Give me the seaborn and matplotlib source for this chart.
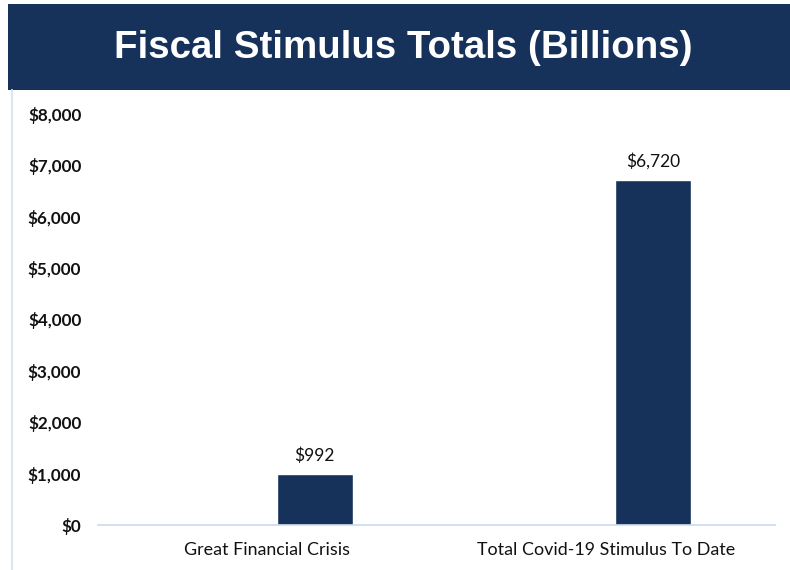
import matplotlib
matplotlib.use("Agg")
import matplotlib.pyplot as plt
import seaborn as sns
import pandas as pd
import numpy as np
from matplotlib.patches import Rectangle
from matplotlib.lines import Line2D

categories = ["Great Financial Crisis", "Total Covid-19 Stimulus To Date"]
series_names = ["Blank", "Stimulus"]
blank_values = [np.nan, np.nan]
values = [992, 6720]
y_ticks = [0, 1000, 2000, 3000, 4000, 5000, 6000, 7000, 8000]

navy = "#17325a"
axis_blue = "#c9daf0"

sns.set_theme(style="white")
plt.rcParams["font.family"] = ["Lato", "DejaVu Sans"]

df = pd.DataFrame({
    "category": categories * 2,
    "series": [series_names[0]] * 2 + [series_names[1]] * 2,
    "value": blank_values + values,
})

fig = plt.figure(figsize=(7.9, 5.7), dpi=100)
fig.patch.set_facecolor("white")

# Header band with title
fig.patches.append(Rectangle((8 / 790, 1 - 90 / 570), 1 - 8 / 790, 86 / 570,
                             transform=fig.transFigure, facecolor=navy,
                             edgecolor="none", zorder=0))
fig.text(403 / 790, 1 - 48 / 570, "Fiscal Stimulus Totals (Billions)",
         ha="center", va="center", color="white", fontsize=27.7,
         fontweight="bold", family=["Liberation Sans", "DejaVu Sans"])

# Thin frame line on the left edge
fig.lines.append(Line2D([12 / 790, 12 / 790], [0, 1 - 90 / 570],
                        transform=fig.transFigure, color="#dbe6f4", lw=1.5))

ax = fig.add_axes([98 / 790, 1 - 525 / 570, 677 / 790, (525 - 114) / 570])
sns.barplot(data=df, x="category", y="value", hue="series",
            hue_order=series_names, palette=[navy, navy], width=0.56,
            gap=0.2, saturation=1, ax=ax, legend=False)

ax.set_xlim(-0.5, 1.5)
ax.set_ylim(0, 8000)
ax.set_yticks(y_ticks)
ax.set_yticklabels([f"${v:,.0f}" for v in y_ticks])
ax.set_xlabel("")
ax.set_ylabel("")

for s in ["top", "right", "left"]:
    ax.spines[s].set_visible(False)
ax.spines["bottom"].set_color(axis_blue)
ax.spines["bottom"].set_linewidth(1.2)

ax.tick_params(axis="y", length=0, pad=12, labelsize=12.3, labelcolor="#111111")
ax.tick_params(axis="x", length=0, pad=12, labelsize=12.9, labelcolor="#111111")
for lbl in ax.get_yticklabels():
    lbl.set_fontweight("bold")

# Value labels above the visible bars
for bar_container in ax.containers:
    labels = [f"${v:,.0f}" if np.isfinite(v) else "" for v in bar_container.datavalues]
    ax.bar_label(bar_container, labels=labels, padding=7, fontsize=12.5,
                 color="#111111")

fig.savefig("out.png", dpi=100, facecolor="white")
